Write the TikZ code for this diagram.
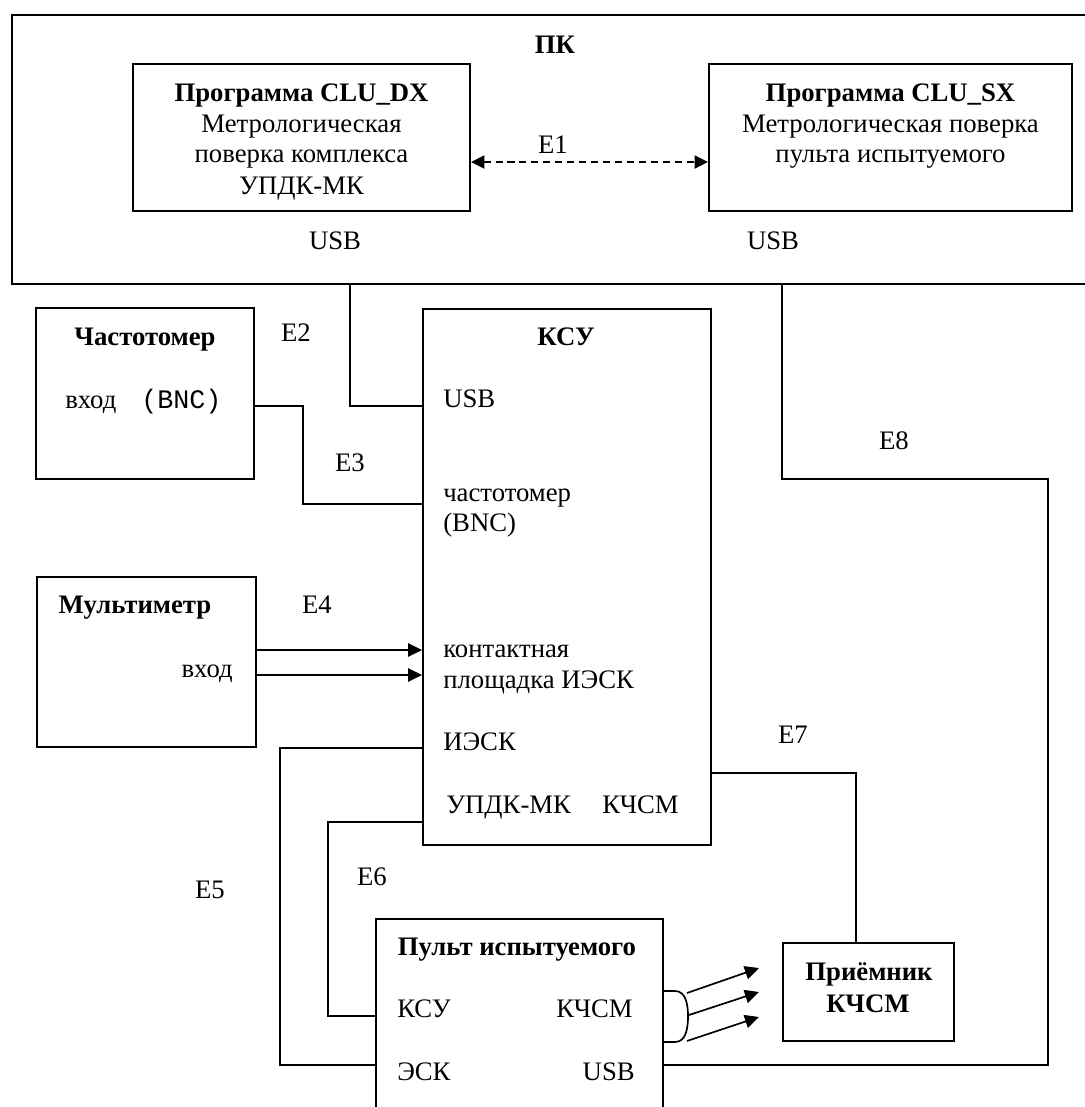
\documentclass[tikz,border=0pt]{standalone}
\usepackage{fontspec}
\setmainfont{Liberation Serif}
\newfontfamily\monofnt{Liberation Mono}
\usetikzlibrary{arrows.meta}
\def\u{0.025cm}
\tikzset{
  box/.style={draw, line width=1.3pt, inner sep=0pt, fill=none},
  txt/.style={font=\fontsize{19}{22}\selectfont, inner sep=0pt, anchor=base},
  btxt/.style={font=\fontsize{19}{22}\selectfont\bfseries, inner sep=0pt, anchor=base},
  wire/.style={line width=1.2pt},
  tip/.style={-{Triangle[length=10pt,width=9.5pt]}},
  dtip/.style={{Triangle[length=9.5pt,width=9pt]}-{Triangle[length=9.5pt,width=9pt]}, dash pattern=on 5pt off 3.5pt, line width=2pt}
}
\begin{document}
\begin{tikzpicture}[x=0.025cm,y=-0.025cm]
\useasboundingbox (0,0) rectangle (1085,1107);
\clip (0,0) rectangle (1085,1107);
\fill[white] (0,0) rectangle (1085,1107);

% boxes
\node[box, minimum width=1083*\u, minimum height=269*\u] (pc) at (553.5,149.5) {};
\node[box, minimum width=337*\u, minimum height=147*\u] (dx) at (301.5,137.5) {};
\node[box, minimum width=363*\u, minimum height=147*\u] (sx) at (890.5,137.5) {};
\node[box, minimum width=218*\u, minimum height=171*\u] (freq) at (145,393.5) {};
\node[box, minimum width=288*\u, minimum height=536*\u] (ksu) at (567,577) {};
\node[box, minimum width=219*\u, minimum height=170*\u] (mult) at (146.5,662) {};
\node[box, minimum width=287*\u, minimum height=206*\u] (pult) at (519.5,1022) {};
\node[box, minimum width=171*\u, minimum height=98*\u] (rcv) at (868.5,992) {};

% texts in PC
\node[btxt] (tpc) at (555,53) {ПК};
\node[btxt] (tdx1) at (301.5,101) {Программа CLU\_DX};
\node[txt] (tdx2) at (301.5,132) {Метрологическая};
\node[txt] (tdx3) at (301.5,162) {поверка комплекса};
\node[txt] (tdx4) at (301.5,194) {УПДК-МК};
\node[btxt] (tsx1) at (890.5,101) {Программа CLU\_SX};
\node[txt] (tsx2) at (890.5,132) {Метрологическая поверка};
\node[txt] (tsx3) at (890.5,162) {пульта испытуемого};
\node[txt] (tusb1) at (335,249) {USB};
\node[txt] (tusb2) at (773,249) {USB};
\node[txt] (te1) at (553,153) {E1};

% Частотомер
\node[btxt] (tfreq) at (145,345) {Частотомер};
\node[txt, anchor=base west] (tfin) at (65,408) {вход};
\node[txt, anchor=base west, font=\fontsize{19}{22}\selectfont\monofnt] (tbnc) at (141,408) {(BNC)};

% Мультиметр
\node[btxt] (tmult) at (135,613) {Мультиметр};
\node[txt, anchor=base east] (tmin) at (233,677) {вход};

% KSU
\node[btxt] (tksu) at (566,345) {КСУ};
\node[txt, anchor=base west] (kusb) at (443,407) {USB};
\node[txt, anchor=base west] (kfr1) at (443,501) {частотомер};
\node[txt, anchor=base west] (kfr2) at (443,531) {(BNC)};
\node[txt, anchor=base west] (kct1) at (443,657) {контактная};
\node[txt, anchor=base west] (kct2) at (443,688) {площадка ИЭСК};
\node[txt, anchor=base west] (kiesk) at (443,750) {ИЭСК};
\node[txt, anchor=base west] (kupdk) at (446,813) {УПДК-МК};
\node[txt, anchor=base west] (kkchsm) at (602,813) {КЧСМ};

% Пульт
\node[btxt] (tpult) at (517,955) {Пульт испытуемого};
\node[txt, anchor=base west] (pksu) at (397,1017) {КСУ};
\node[txt, anchor=base east] (pkchsm) at (633,1017) {КЧСМ};
\node[txt, anchor=base west] (pesk) at (397,1080) {ЭСК};
\node[txt, anchor=base east] (pusb) at (635,1080) {USB};

% Приёмник
\node[btxt] (trcv1) at (869,980) {Приёмник};
\node[btxt] (trcv2) at (868,1012) {КЧСМ};

% edge labels
\node[txt] (e2) at (296,341) {E2};
\node[txt] (e3) at (350,471) {E3};
\node[txt] (e4) at (317,613) {E4};
\node[txt] (e5) at (210,898) {E5};
\node[txt] (e6) at (372,885) {E6};
\node[txt] (e7) at (793,743) {E7};
\node[txt] (e8) at (894,449) {E8};

% port coordinates
\coordinate (c2) at (350,406);
\coordinate (c3a) at (303,406);
\coordinate (c3b) at (303,504);
\coordinate (c5a) at (280,748);
\coordinate (c5b) at (280,1065);
\coordinate (c6a) at (328,822);
\coordinate (c6b) at (328,1016);
\coordinate (c7) at (856,773);
\coordinate (c8a) at (782,479);
\coordinate (c8b) at (1048,479);
\coordinate (c8c) at (1048,1065);

% connectors
\draw[dtip] (dx.east |- 0,162) -- (sx.west |- 0,162);
\draw[wire] (pc.south -| c2) -- (c2) -- (ksu.west |- c2);
\draw[wire] (freq.east |- c3a) -- (c3a) -- (c3b) -- (ksu.west |- c3b);
\draw[wire, tip] (mult.east |- 0,650) -- (ksu.west |- 0,650);
\draw[wire, tip] (mult.east |- 0,675) -- (ksu.west |- 0,675);
\draw[wire] (ksu.west |- c5a) -- (c5a) -- (c5b) -- (pult.west |- c5b);
\draw[wire] (ksu.west |- c6a) -- (c6a) -- (c6b) -- (pult.west |- c6b);
\draw[wire] (ksu.east |- c7) -- (c7) -- (rcv.north -| c7);
\draw[wire] (pc.south -| c8a) -- (c8a) -- (c8b) -- (c8c) -- (pult.east |- c8c);

% emitter bump and rays
\coordinate (b1) at (675,991);
\coordinate (b2) at (688,1016);
\coordinate (b3) at (675,1042);
\draw[wire] (pult.east |- b1) -- (b1) to[out=0,in=90] (b2) to[out=-90,in=0] (b3) -- (pult.east |- b3);
\coordinate (r1s) at (687,993); \coordinate (r1e) at (759,968);
\coordinate (r2s) at (689,1015); \coordinate (r2e) at (759,992);
\coordinate (r3s) at (687,1041); \coordinate (r3e) at (759,1017);
\draw[wire, tip] (r1s) -- (r1e);
\draw[wire, tip] (r2s) -- (r2e);
\draw[wire, tip] (r3s) -- (r3e);
\end{tikzpicture}
\end{document}
